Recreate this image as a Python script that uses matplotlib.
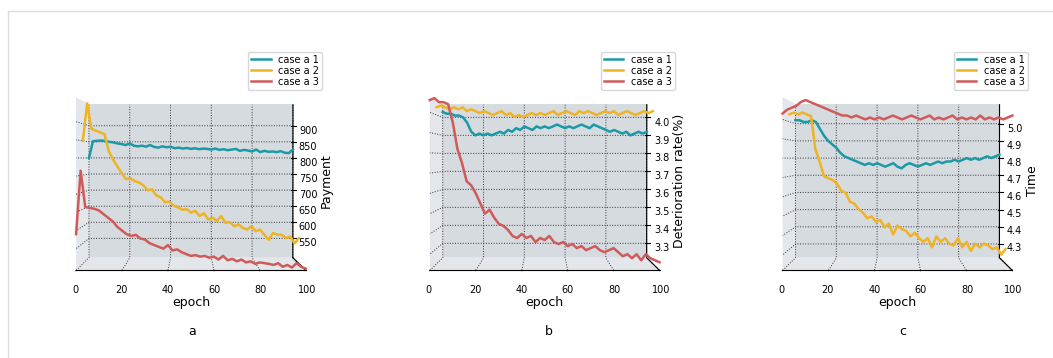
import numpy as np
import matplotlib.pyplot as plt
from matplotlib.lines import Line2D

epochs = np.arange(0, 101, 2)
labels = ["case a 1", "case a 2", "case a 3"]
colors = ["#1b9aa5", "#f0b323", "#d05a5a"]

payment_1 = [800, 852, 853, 854, 852, 850, 848, 845, 843, 840, 845, 838, 836, 838, 835, 840,
             834, 832, 836, 833, 835, 830, 832, 829, 831, 828, 830, 827, 829, 828, 826, 829,
             825, 827, 824, 826, 828, 822, 825, 823, 820, 826, 818, 822, 819, 820, 818, 821,
             816, 815, 826]
payment_2 = [850, 960, 885, 880, 875, 870, 820, 795, 775, 755, 738, 740, 732, 728, 720, 705,
             708, 690, 685, 670, 672, 660, 655, 648, 650, 640, 645, 630, 638, 620, 625, 615,
             630, 610, 612, 600, 605, 595, 590, 600, 585, 590, 575, 560, 580, 575, 575, 565,
             570, 550, 565]
payment_3 = [590, 765, 665, 662, 660, 655, 645, 635, 625, 610, 600, 590, 585, 588, 578, 575,
             565, 560, 555, 550, 560, 545, 548, 540, 535, 530, 532, 528, 530, 525, 528, 520,
             530, 518, 522, 515, 520, 512, 515, 508, 512, 510, 508, 505, 510, 500, 505, 498,
             510, 500, 495]

deter_1 = [4.03, 4.02, 4.02, 4.01, 4.01, 4.00, 3.97, 3.92, 3.90, 3.91, 3.90, 3.91, 3.90, 3.91,
           3.92, 3.91, 3.93, 3.92, 3.94, 3.93, 3.95, 3.94, 3.93, 3.95, 3.94, 3.95, 3.94, 3.95,
           3.96, 3.95, 3.94, 3.95, 3.94, 3.95, 3.96, 3.95, 3.94, 3.96, 3.95, 3.94, 3.93, 3.92,
           3.93, 3.92, 3.91, 3.92, 3.90, 3.91, 3.92, 3.91, 3.92]
deter_2 = [4.04, 4.05, 4.04, 4.03, 4.04, 4.03, 4.04, 4.02, 4.03, 4.02, 4.01, 4.02, 4.01, 4.00,
           4.01, 4.02, 4.00, 4.01, 3.99, 4.00, 3.99, 4.00, 4.01, 4.00, 4.01, 4.00, 4.01, 4.02,
           4.00, 4.01, 4.02, 4.01, 4.00, 4.02, 4.01, 4.02, 4.01, 4.00, 4.01, 4.02, 4.01, 4.02,
           4.00, 4.01, 4.02, 4.01, 4.00, 4.01, 4.02, 4.01, 4.02]
deter_3 = [4.06, 4.07, 4.05, 4.05, 4.04, 3.95, 3.82, 3.75, 3.66, 3.64, 3.60, 3.55, 3.50, 3.52,
           3.48, 3.45, 3.44, 3.42, 3.39, 3.38, 3.40, 3.38, 3.39, 3.36, 3.38, 3.37, 3.39, 3.36,
           3.35, 3.36, 3.34, 3.35, 3.33, 3.34, 3.32, 3.33, 3.34, 3.32, 3.31, 3.32, 3.33, 3.31,
           3.29, 3.30, 3.28, 3.30, 3.27, 3.30, 3.28, 3.27, 3.26]

time_1 = [5.02, 5.02, 5.01, 5.01, 5.02, 5.01, 4.97, 4.93, 4.90, 4.88, 4.86, 4.83, 4.81, 4.80,
          4.79, 4.78, 4.77, 4.76, 4.77, 4.76, 4.77, 4.76, 4.75, 4.76, 4.77, 4.75, 4.74, 4.76,
          4.77, 4.76, 4.75, 4.76, 4.77, 4.76, 4.77, 4.78, 4.77, 4.78, 4.78, 4.79, 4.78, 4.79,
          4.80, 4.79, 4.80, 4.79, 4.80, 4.81, 4.80, 4.81, 4.82]
time_2 = [5.04, 5.05, 5.04, 5.05, 5.04, 5.03, 4.85, 4.78, 4.70, 4.69, 4.68, 4.66, 4.62, 4.61,
          4.56, 4.55, 4.52, 4.50, 4.47, 4.48, 4.45, 4.46, 4.42, 4.44, 4.38, 4.43, 4.41, 4.40,
          4.37, 4.39, 4.36, 4.34, 4.36, 4.31, 4.37, 4.34, 4.36, 4.33, 4.32, 4.36, 4.31, 4.34,
          4.29, 4.33, 4.31, 4.33, 4.32, 4.30, 4.31, 4.27, 4.30]
time_3 = [5.03, 5.05, 5.06, 5.07, 5.09, 5.10, 5.09, 5.08, 5.07, 5.06, 5.05, 5.04, 5.03, 5.02,
          5.02, 5.01, 5.02, 5.01, 5.00, 5.01, 5.00, 5.01, 5.00, 5.01, 5.02, 5.01, 5.00, 5.01,
          5.02, 5.01, 5.00, 5.01, 5.02, 5.00, 5.01, 5.00, 5.01, 5.02, 5.00, 5.01, 5.00, 5.01,
          5.00, 5.02, 5.00, 5.01, 5.00, 5.01, 5.00, 5.01, 5.02]

panels = [
    ([payment_1, payment_2, payment_3], "Payment", (490, 965), [550, 600, 650, 700, 750, 800, 850, 900], "a"),
    ([deter_1, deter_2, deter_3], "Deterioration rate(%)", (3.22, 4.07), [3.3, 3.4, 3.5, 3.6, 3.7, 3.8, 3.9, 4.0], "b"),
    ([time_1, time_2, time_3], "Time", (4.22, 5.11), [4.3, 4.4, 4.5, 4.6, 4.7, 4.8, 4.9, 5.0], "c"),
]

fig = plt.figure(figsize=(10.53, 3.58), dpi=100)
lefts = [0.0035, 0.3395, 0.6745]
legend_right = [0.306, 0.641, 0.976]
tag_x = [0.182, 0.521, 0.857]

for (series, zlabel, zlim, zticks, tag), left, lr, tx in zip(panels, lefts, legend_right, tag_x):
    ax = fig.add_axes([left, 0.008, 0.347, 0.938], projection="3d")
    # back-to-front: case 1 sits at the back, case 3 in front
    for depth, vals, c, lab in zip([2, 1, 0], series, colors, labels):
        ax.plot(epochs, np.full(len(epochs), depth), vals, color=c, lw=1.8, label=lab)
    ax.set_xlim(0, 100)
    ax.set_ylim(0, 2)
    ax.set_zlim(*zlim)
    ax.set_xticks([0, 20, 40, 60, 80, 100])
    ax.set_yticks([])
    ax.set_zticks(zticks)
    ax.tick_params(labelsize=7, pad=2)
    ax.set_xlabel("epoch", fontsize=9, labelpad=0)
    ax.zaxis.set_rotate_label(False)
    ax.set_zlabel(zlabel, fontsize=9, labelpad=1.2, rotation=90)
    ax.view_init(elev=0.8, azim=-90)
    for axis in (ax.xaxis, ax.yaxis, ax.zaxis):
        axis._axinfo["grid"]["linestyle"] = ":"
        axis._axinfo["grid"]["color"] = "#333333"
        axis._axinfo["grid"]["linewidth"] = 0.7
    ax.xaxis.set_pane_color((0.89, 0.90, 0.92, 1))
    ax.yaxis.set_pane_color((0.84, 0.86, 0.88, 1))
    ax.zaxis.set_pane_color((0.89, 0.90, 0.92, 1))
    ax.legend(loc="upper right", fontsize=7, bbox_to_anchor=(lr, 0.855),
              bbox_transform=fig.transFigure, borderaxespad=0, handlelength=2.0,
              borderpad=0.3, labelspacing=0.1)
    fig.text(tx, 0.065, tag, fontsize=9, ha="center")

fig.add_artist(Line2D([0.008, 0.008], [0, 0.97], color="#dddddd", lw=1))
fig.add_artist(Line2D([0.008, 1], [0.97, 0.97], color="#dddddd", lw=1))

fig.savefig("out.png", dpi=100)
